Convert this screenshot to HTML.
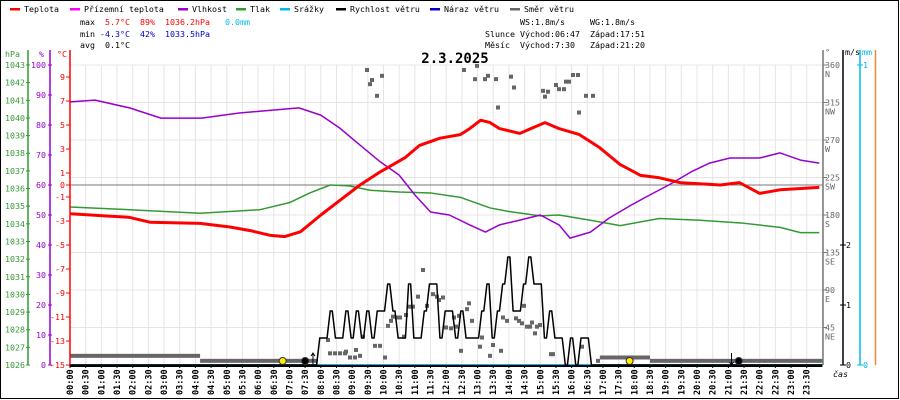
<!DOCTYPE html>
<html><head><meta charset="utf-8"><style>
html,body{margin:0;padding:0;background:#fff}
svg{display:block}
text{font-family:"DejaVu Sans Mono","Liberation Mono",monospace;font-size:8.3px}
</style></head><body>
<svg id="c" width="900" height="400" viewBox="0 0 900 400">
<rect x="0.5" y="0.5" width="898" height="398" fill="#fff" stroke="#000"/>
<g id="legend"></g>
<g id="stats"></g>
<g id="grid"></g>
<g id="series"></g>
<g id="axes"></g>
</svg>
<script>
const tempT=[0,1.9,2.55,4.15,5.1,5.75,6.4,6.85,7.35,8.0,8.6,9.25,9.9,10.7,11.15,11.8,12.45,12.75,13.1,13.4,13.7,14.35,14.7,15.15,15.6,16.25,16.9,17.55,18.2,18.8,19.45,20.75,21.35,22.0,22.65,23.9];
const tempV=[-2.4,-2.7,-3.1,-3.2,-3.5,-3.8,-4.2,-4.3,-3.9,-2.5,-1.3,0,1.1,2.3,3.3,3.9,4.2,4.7,5.4,5.2,4.7,4.3,4.7,5.2,4.7,4.2,3.1,1.7,0.8,0.6,0.2,0,0.2,-0.7,-0.4,-0.2];
const humT=[0,0.8,1.9,2.9,4.2,5.4,7.3,8.0,8.6,9.25,9.9,10.5,11.0,11.5,12.1,12.75,13.25,13.7,14.35,15.0,15.6,15.95,16.6,17.2,17.9,18.5,19.1,19.8,20.4,21.05,22.0,22.65,23.3,23.9];
const humV=[87.7,88.3,85.7,82.3,82.3,84,85.7,83.3,79,73.3,67.7,63.3,56.7,51,50,46.7,44.3,46.7,48.3,50,46.7,42.3,44.3,49,53.3,56.7,60,64.3,67.3,69,69,70.7,68.3,67.3];
const presT=[0,1.9,4.15,6.06,7.0,7.65,8.3,8.9,9.57,10.5,11.5,12.45,13.4,14.0,15.0,15.6,16.6,17.55,18.8,20.1,21.4,22.65,23.3,23.9];
const presV=[1034.95,1034.8,1034.6,1034.8,1035.2,1035.75,1036.2,1036.15,1035.9,1035.8,1035.75,1035.5,1034.9,1034.7,1034.45,1034.5,1034.2,1033.9,1034.3,1034.2,1034.05,1033.8,1033.5,1033.5];
const windStart=7.8333;
const windV=[0,0.45,0.45,0.9,0.45,0.45,0.9,0.45,0.9,0.45,0.9,0.45,0.9,0.9,1.35,0.9,0.45,0.45,1.35,0.45,0.45,0.9,1.35,1.35,0.45,0.9,0.9,0.45,0.9,0.45,0.45,0.45,0.9,1.35,0.45,0.9,1.35,1.8,0.9,0.9,1.35,1.8,1.35,1.35,0.45,0.9,0.45,0.45,0,0.45,0,0.45,0.45,0];
const dirRuns=[[0,4.15,11],[4.15,7.9,5],[16.9,18.5,9],[18.5,24,5]];
const dirX=[328,330,335,340,345,346,350,355,356,360,363,375,380,385,388,391,393,397,400,404,406,410,413,418,423,427,433,437,439,443,446,451,454,456,459,461,467,469,472,480,482,490,493,501,503,507,516,519,522,524,527,530,532,535,537,540,551,553,582,598,367,372,370,382,377,464,477,475,485,488,496,498,511,514,543,545,548,556,559,564,566,569,573,578,579,586,593];
const dirV=[30,14,14,14,14,16,9,9,18,11,34,23,23,9,47,53,58,57,57,34,60,70,70,82,114,71,85,82,78,81,45,44,57,46,59,17,67,74,53,22,33,11,24,17,57,53,56,53,50,71,46,46,51,38,46,48,13,13,22,5,354,342,337,347,323,354,359,343,343,347,343,309,346,333,329,322,328,336,331,331,340,340,348,348,303,323,323];
const tempTicks=[9,7,5,3,1,0,-1,-3,-5,-7,-9,-11,-13,-15];
const humTicks=[0,10,20,30,40,50,60,70,80,90,100];
const presTicks=[1026,1027,1028,1029,1030,1031,1032,1033,1034,1035,1036,1037,1038,1039,1040,1041,1042,1043];
const dirTicks=[[45,"NE"],[90,"E"],[135,"SE"],[180,"S"],[225,"SW"],[270,"W"],[315,"NW"],[360,"N"]];

const NS="http://www.w3.org/2000/svg";
const X0=70,X1=822.4,Y0=365,Y1=65;
const xs=h=>X0+h*(X1-X0)/24;
const yT=v=>185-v*12;
const yH=v=>Y0-v*3;
const yP=v=>Y0-(v-1026)*300/17;
const yD=v=>Y0-v*300/360;
const yW=v=>Y0-v*60;
function el(tag,attrs,parent,txt){const e=document.createElementNS(NS,tag);for(const k in attrs)e.setAttribute(k,attrs[k]);if(txt!==undefined)e.textContent=txt;parent.appendChild(e);return e;}
const G=id=>document.getElementById(id);

const leg=[["Teplota","#ff0000",10],["Přízemní teplota","#ff00ff",70],["Vlhkost","#9900cc",178],["Tlak","#339933",236],["Srážky","#00bbee",280],["Rychlost větru","#000000",336],["Náraz větru","#0000cc",430],["Směr větru","#666666",510]];
leg.forEach(l=>{
 const g=el('g',{},G('legend'));
 
 
 el('rect',{x:l[2],y:8,width:10,height:2.5,fill:l[1]},g);
 el('text',{x:l[2]+14,y:12},g,l[0]);
});
const st=G('stats');
[["max",25,[["5.7°C",105,"#ff0000"],["89%",140,"#ff0000"],["1036.2hPa",165,"#ff0000"],["0.0mm",225,"#00bbee"]]],
 ["min",37,[["-4.3°C",100,"#0000cc"],["42%",140,"#0000cc"],["1033.5hPa",165,"#0000cc"]]],
 ["avg",48,[["0.1°C",105,"#000"]]]].forEach(r=>{
 el('text',{x:80,y:r[1]},st,r[0]);
 r[2].forEach(c=>el('text',{x:c[1],y:r[1],fill:c[2]},st,c[0]));
});
[["WS:1.8m/s",520,25],["WG:1.8m/s",590,25],["Slunce",485,37],["Východ:06:47",520,37],["Západ:17:51",590,37],["Měsíc",485,48],["Východ:7:30",520,48],["Západ:21:20",590,48]].forEach(t=>el('text',{x:t[1],y:t[2]},st,t[0]));
const title=el('text',{x:455,y:63,"text-anchor":"middle","font-weight":"bold",style:"font-size:14px"},st,"2.3.2025");



const gr=G('grid');
for(let i=0;i<=48;i++){const x=xs(i/2);el('line',{x1:x,y1:Y1,x2:x,y2:Y0,stroke:"#e8e4e4"},gr);}
dirTicks.forEach(d=>el('line',{x1:X0,y1:yD(d[0]),x2:X1,y2:yD(d[0]),stroke:"#e8e4e4"},gr));
el('line',{x1:X0,y1:yT(0),x2:X1,y2:yT(0),stroke:"#777"},gr);

const se=G('series');
dirRuns.forEach(r=>{
 const b=el('rect',{x:xs(r[0]),y:yD(r[2])-2,width:xs(r[1])-xs(r[0]),height:4,fill:"#666"},se);
 
 
});
dirX.forEach((x,i)=>{
 const h=(x-X0)*24/(X1-X0);
 const d=el('rect',{x:xs(h)-2,y:yD(dirV[i])-2,width:4,height:4,fill:"#666"},se);
 
 
});
el('line',{x1:X0,y1:Y0,x2:X1,y2:Y0,stroke:"#00bbee","stroke-width":2},se);
function poly(T,V,fy,color,w,name){
 const p=el('polyline',{points:T.map((t,i)=>xs(t)+","+fy(V[i])).join(" "),fill:"none",stroke:color,"stroke-width":w,"stroke-linejoin":"round"},se);
 
 
}
poly(presT,presV,yP,"#339933",1.5,"pressure-line");
poly(humT,humV,yH,"#9900cc",1.5,"humidity-line");
poly(tempT,tempV,yT,"#ff0000",3,"temperature-line");
const wT=[0],wV=[0];
const step=1/6, tr=0.05;
windV.forEach((v,i)=>{const t=windStart+i*step;wT.push(t-step/2+tr);wV.push(v);wT.push(t+step/2-tr);wV.push(v);});
wT.push(24);wV.push(0);
poly(wT,wV,yW,"#000",1.5,"wind-speed-line");
[[6.783,"#ffee00"],[17.85,"#ffee00"],[7.5,"#000"],[21.333,"#000"]].forEach(m=>{
 const c=el('circle',{cx:xs(m[0]),cy:361,r:3.5,fill:m[1],stroke:"#333"},se);
 
 
});
el('path',{d:`M${xs(7.75)} 365V353M${xs(7.75)-2} 356L${xs(7.75)} 353L${xs(7.75)+2} 356`,stroke:"#000",fill:"none"},se);
el('path',{d:`M${xs(21.1)} 353V365M${xs(21.1)-2} 362L${xs(21.1)} 365L${xs(21.1)+2} 362`,stroke:"#000",fill:"none"},se);

const ax=G('axes');
el('line',{x1:28,y1:Y1-15,x2:28,y2:Y0,stroke:"#339933","stroke-width":1.5},ax);
el('line',{x1:50,y1:Y1-15,x2:50,y2:Y0,stroke:"#9900cc","stroke-width":1.5},ax);
el('line',{x1:X0,y1:Y1-15,x2:X0,y2:Y0,stroke:"#ff0000","stroke-width":1.5},ax);
el('text',{x:5,y:57,fill:"#339933"},ax,"hPa");
el('text',{x:39,y:57,fill:"#9900cc"},ax,"%");
el('text',{x:57,y:57,fill:"#ff0000"},ax,"°C");
presTicks.forEach(p=>{el('line',{x1:26,y1:yP(p),x2:30,y2:yP(p),stroke:"#339933"},ax);el('text',{x:25,y:yP(p)+3,"text-anchor":"end",fill:"#339933"},ax,p);});
humTicks.forEach(h=>{el('line',{x1:48,y1:yH(h),x2:52,y2:yH(h),stroke:"#9900cc"},ax);el('text',{x:46,y:yH(h)+3,"text-anchor":"end",fill:"#9900cc"},ax,h);});
tempTicks.forEach(t=>{el('line',{x1:66,y1:yT(t),x2:70,y2:yT(t),stroke:"#ff0000"},ax);el('text',{x:65,y:yT(t)+3,"text-anchor":"end",fill:"#ff0000"},ax,t);});
el('line',{x1:X0,y1:Y0+1,x2:X1,y2:Y0+1,stroke:"#000","stroke-width":2},ax);
el('line',{x1:823,y1:Y1-15,x2:823,y2:Y0,stroke:"#777","stroke-width":1.5},ax);
el('line',{x1:843,y1:Y1-15,x2:843,y2:Y0,stroke:"#000","stroke-width":1.5},ax);
el('line',{x1:860,y1:Y1-15,x2:860,y2:Y0,stroke:"#00bbee","stroke-width":1.5},ax);
el('line',{x1:875.5,y1:Y1-15,x2:875.5,y2:Y0,stroke:"#ee8833","stroke-width":1.5},ax);
el('text',{x:825,y:55,fill:"#666"},ax,"°");
el('text',{x:845,y:55,fill:"#000"},ax,"m/s");
el('text',{x:862,y:55,fill:"#00bbee"},ax,"mm");
dirTicks.forEach(d=>{const y=yD(d[0]);el('line',{x1:823,y1:y,x2:827,y2:y,stroke:"#777"},ax);el('text',{x:825,y:y+3,fill:"#666"},ax,d[0]);el('text',{x:825,y:y+12,fill:"#666"},ax,d[1]);});
[0,1,2].forEach(v=>{el('line',{x1:840,y1:yW(v),x2:846,y2:yW(v),stroke:"#000"},ax);el('text',{x:846,y:yW(v)+3},ax,v);});
[0,1].forEach(v=>{const y=Y0-v*300;el('line',{x1:857,y1:y,x2:863,y2:y,stroke:"#00bbee"},ax);el('text',{x:863,y:y+3,fill:"#00bbee"},ax,v);});
el('text',{x:833,y:377,style:"font-style:italic"},ax,"čas");
for(let i=0;i<48;i++){
 const h=Math.floor(i/2),m=i%2?"30":"00";
 const lab=(h<10?"0":"")+h+":"+m;
 const x=xs(i/2);
 el('line',{x1:x,y1:Y0,x2:x,y2:Y0+3,stroke:"#000"},ax);
 const t=el('text',{x:0,y:0,transform:`translate(${x+3},395) rotate(-90)`,"font-weight":"bold",style:"font-size:8.5px"},ax,lab);
 
 
}
</script>
</body></html>
